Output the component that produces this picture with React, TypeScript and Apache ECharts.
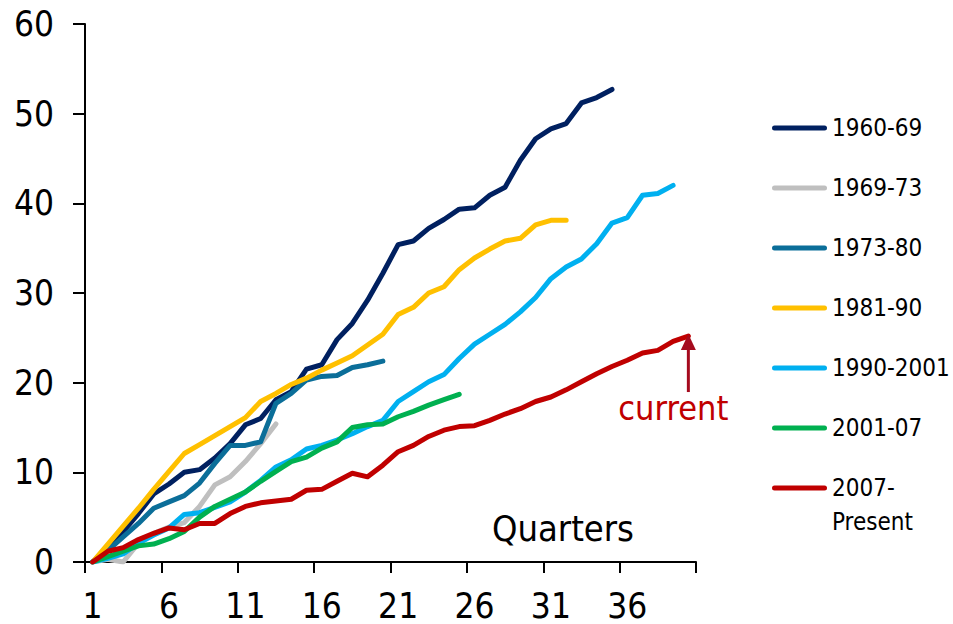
import { useEffect, useRef } from "react";
import * as echarts from "echarts";

const FONT = "'DejaVu Sans Condensed', 'DejaVu Sans', sans-serif";

const quarters = [
  "1", "2", "3", "4", "5", "6", "7", "8", "9", "10",
  "11", "12", "13", "14", "15", "16", "17", "18", "19", "20",
  "21", "22", "23", "24", "25", "26", "27", "28", "29", "30",
  "31", "32", "33", "34", "35", "36", "37", "38", "39", "40",
];

const seriesNames = ["1960-69", "1969-73", "1973-80", "1981-90", "1990-2001", "2001-07", "2007-Present"];
const seriesColors = ["#002060", "#BFBFBF", "#0B6E99", "#FFC000", "#00B0F0", "#00B050", "#C00000"];

const s1960 = [0, 1.6, 3.4, 5.4, 7.6, 8.7, 10.0, 10.3, 11.6, 13.2, 15.3, 16.0, 18.1, 19.0, 21.5, 22.0, 24.8, 26.6, 29.2, 32.2, 35.4, 35.8, 37.2, 38.2, 39.35, 39.5, 40.9, 41.8, 44.8, 47.2, 48.3, 48.9, 51.2, 51.8, 52.7];
const s1969 = [0, 0.3, 0, 2.1, 3.2, 3.9, 4.4, 6.2, 8.6, 9.5, 11.2, 13.2, 15.4];
const s1973 = [0, 1.3, 2.8, 4.3, 6.0, 6.7, 7.4, 8.8, 11.0, 13.0, 13.0, 13.4, 17.7, 18.8, 20.3, 20.7, 20.8, 21.7, 22.0, 22.4];
const s1981 = [0, 2.0, 4.0, 6.0, 8.1, 10.1, 12.1, 13.1, 14.1, 15.1, 16.1, 17.9, 18.8, 19.8, 20.5, 21.4, 22.2, 23.0, 24.2, 25.4, 27.6, 28.4, 30.0, 30.7, 32.6, 33.9, 34.9, 35.8, 36.1, 37.6, 38.1, 38.1];
const s1990 = [0, 0.4, 0.9, 2.1, 3.0, 3.8, 5.3, 5.5, 6.1, 6.7, 7.8, 9.1, 10.6, 11.4, 12.6, 13.0, 13.6, 14.3, 15.1, 15.8, 17.9, 19.0, 20.1, 20.9, 22.7, 24.3, 25.4, 26.5, 27.9, 29.5, 31.6, 32.9, 33.8, 35.5, 37.8, 38.4, 40.9, 41.1, 42.0];
const s2001 = [0, 0.6, 1.2, 1.8, 2.0, 2.6, 3.4, 5.0, 6.2, 7.0, 7.8, 9.0, 10.1, 11.2, 11.7, 12.7, 13.4, 15.0, 15.3, 15.4, 16.2, 16.8, 17.5, 18.1, 18.7];
const s2007 = [0, 1.2, 1.6, 2.5, 3.2, 3.8, 3.6, 4.3, 4.3, 5.4, 6.2, 6.6, 6.8, 7.0, 8.0, 8.1, 9.0, 9.9, 9.5, 10.8, 12.3, 13.0, 14.0, 14.7, 15.1, 15.2, 15.8, 16.5, 17.1, 17.9, 18.4, 19.2, 20.1, 21.0, 21.8, 22.5, 23.3, 23.6, 24.6, 25.2];

const seriesData = [s1960, s1969, s1973, s1981, s1990, s2001, s2007];

const yMin = 0;
const yMax = 60;
const yInterval = 10;

const axisTitle = "Quarters";
const annotationText = "current";

const LEGEND_ICON = "path://M2.5,0 L52.5,0 A2.5,2.5 0 0 1 52.5,5 L2.5,5 A2.5,2.5 0 0 1 2.5,0 Z";

export default function App() {
  const ref = useRef<HTMLDivElement>(null);

  useEffect(() => {
    if (!ref.current) return;
    const chart = echarts.init(ref.current, null, { renderer: "svg" });

    chart.setOption({
      animation: false,
      backgroundColor: "#ffffff",
      grid: { left: 85, right: 257, top: 24, bottom: 62, containLabel: false },
      xAxis: {
        type: "category",
        data: quarters,
        boundaryGap: true,
        axisLine: { show: true, lineStyle: { color: "#000", width: 2 } },
        axisTick: { show: true, interval: 4, length: 11, inside: false, lineStyle: { color: "#000", width: 2 } },
        axisLabel: { interval: 4, fontSize: 35, fontFamily: FONT, color: "#000", margin: 26 },
        splitLine: { show: false },
      },
      yAxis: {
        type: "value",
        min: yMin,
        max: yMax,
        interval: yInterval,
        axisLine: { show: true, lineStyle: { color: "#000", width: 2 } },
        axisTick: { show: true, length: 12, inside: false, lineStyle: { color: "#000", width: 2 } },
        axisLabel: { fontSize: 35, fontFamily: FONT, color: "#000", margin: 31 },
        splitLine: { show: false },
      },
      legend: {
        orient: "vertical",
        left: 772,
        top: 116,
        padding: 0,
        icon: LEGEND_ICON,
        itemWidth: 55,
        itemHeight: 5,
        itemGap: 36,
        data: seriesNames,
        textStyle: { fontSize: 24, fontFamily: FONT, color: "#000" },
        formatter: (name: string) => (name === "2007-Present" ? "2007-" : name),
      },
      series: seriesNames.map((name, i) => ({
        name,
        type: "line",
        data: seriesData[i],
        symbol: "none",
        showSymbol: false,
        smooth: false,
        color: seriesColors[i],
        itemStyle: { color: seriesColors[i] },
        lineStyle: { width: 5, color: seriesColors[i], cap: "round", join: "round" },
        z: 2 + i,
      })),
    });

    const last = s2007.length - 1;
    const pt = chart.convertToPixel({ gridIndex: 0 } as any, [last, s2007[last]]) as number[];
    const px = pt[0];
    const py = pt[1];
    const arrowColor = "#A50B1E";

    chart.setOption({
      graphic: [
        {
          type: "text",
          x: 492,
          y: 528,
          style: { text: axisTitle, fontSize: 36, fontFamily: FONT, fill: "#000", verticalAlign: "middle", align: "left" },
        },
        {
          type: "text",
          x: 832,
          y: 522,
          style: { text: "Present", fontSize: 24, fontFamily: FONT, fill: "#000", verticalAlign: "middle", align: "left" },
        },
        {
          type: "line",
          shape: { x1: px, y1: py + 56, x2: px, y2: py + 12 },
          style: { stroke: arrowColor, lineWidth: 3 },
          z: 100,
        },
        {
          type: "polygon",
          shape: { points: [[px, py - 2], [px - 7.5, py + 14], [px + 7.5, py + 14]] },
          style: { fill: arrowColor },
          z: 100,
        },
        {
          type: "text",
          x: px - 15,
          y: py + 72,
          style: { text: annotationText, fontSize: 34, fontFamily: FONT, fill: "#C00000", verticalAlign: "middle", align: "center" },
          z: 100,
        },
      ],
    });

    return () => chart.dispose();
  }, []);

  return (
    <div
      ref={ref}
      style={{ position: "fixed", left: 0, top: 0, width: 953, height: 624, background: "#fff" }}
    />
  );
}
